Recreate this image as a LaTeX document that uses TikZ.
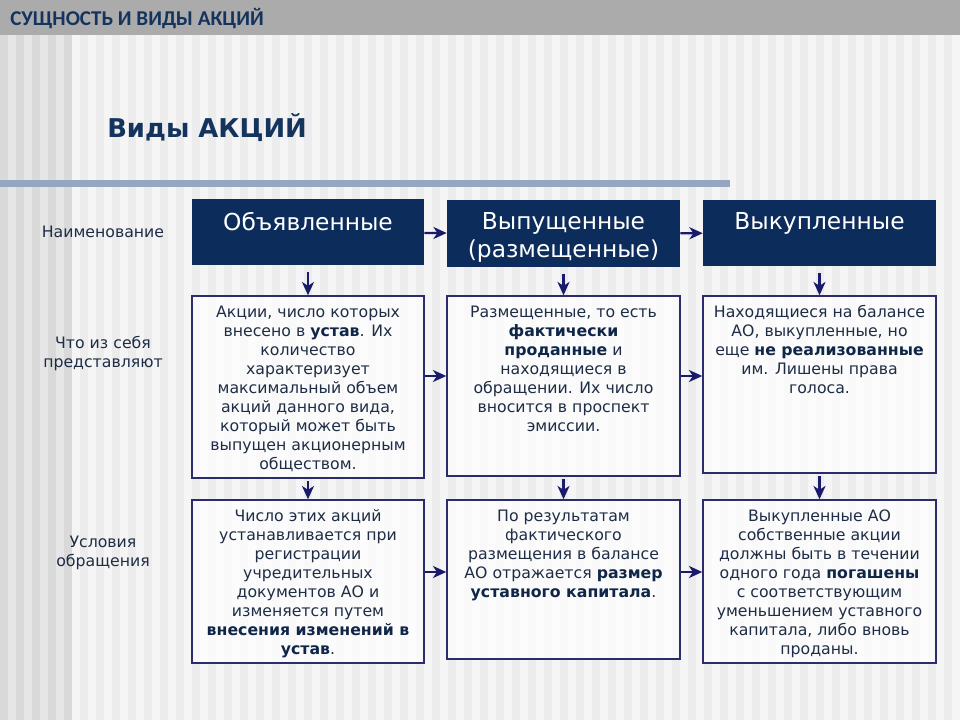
\documentclass[tikz,border=0pt]{standalone}
\usepackage{fontspec}
\setmainfont{DejaVu Sans}
\newfontfamily\barfont{Carlito}
\usetikzlibrary{arrows.meta,calc}
\definecolor{hdrblue}{HTML}{0C2D5C}
\definecolor{boxline}{HTML}{2B2C6B}
\definecolor{arrowc}{HTML}{1A1A6B}
\definecolor{txt}{HTML}{1E2D45}
\definecolor{boldtxt}{HTML}{0F2648}
\definecolor{titletxt}{HTML}{14345E}
\definecolor{barc}{HTML}{ABABAB}
\definecolor{rulec}{HTML}{94A7BF}
\definecolor{stripeA}{HTML}{D9D9D9}
\definecolor{stripeB}{HTML}{E6E6E6}
\definecolor{stripeC}{HTML}{F5F5F5}
\definecolor{stripeD}{HTML}{ECECEC}
\newdimen\pxu \pxu=0.75pt
\newcommand{\bt}[1]{\textbf{\color{boldtxt}#1}}
\tikzset{
  hdr/.style={fill=hdrblue, draw=none, inner sep=0pt},
  htext/.style={text=white, align=center, inner sep=0pt, font=\fontsize{17.5}{21}\selectfont},
  box/.style={draw=boxline, line width=1.1pt, fill=white, fill opacity=0.7, inner sep=0pt},
  btext/.style={text=txt, align=center, inner sep=0pt, font=\fontsize{11.8}{14.25}\selectfont},
  lbl/.style={text=txt, align=center, inner sep=0pt, font=\fontsize{11.8}{14.25}\selectfont},
  arr/.style={draw=arrowc, line width=1.7pt, -{Stealth[length=10pt,width=9pt,inset=3pt]}}
}
\begin{document}
\begin{tikzpicture}[x=0.75pt, y=-0.75pt]
\useasboundingbox (0,0) rectangle (960,720);
% background stripes
\fill[stripeB] (0,0) rectangle (72,720);
\foreach \i in {0,16,...,64} \fill[stripeA] (\i,0) rectangle ++(8,720);
\fill[stripeC] (72,0) rectangle (960,720);
\foreach \i in {80,96,...,944} \fill[stripeD] (\i,0) rectangle ++(8,720);
% top bar
\fill[barc] (0,0) rectangle (960,35);
\node[anchor=west, inner sep=0pt, text=titletxt, font=\barfont\bfseries\fontsize{15.8}{19}\selectfont] (bartitle) at (10,19) {СУЩНОСТЬ И ВИДЫ АКЦИЙ};
% title
\node[anchor=west, inner sep=0pt, text=titletxt, font=\bfseries\fontsize{19.4}{24}\selectfont] (title) at (107,128) {Виды АКЦИЙ};
\fill[rulec] (0,180.5) rectangle (730,187.5);
% headers
\node[hdr, minimum width=232\pxu, minimum height=66\pxu] (h1) at (308,232.5) {};
\node[hdr, minimum width=233\pxu, minimum height=67\pxu] (h2) at (563.5,233.5) {};
\node[hdr, minimum width=233\pxu, minimum height=66\pxu] (h3) at (819.5,233) {};
\node[htext, anchor=north] (h1t) at ([yshift=-13\pxu]h1.north) {Объявленные};
\node[htext, anchor=north] (h2t) at ([yshift=-12\pxu]h2.north) {Выпущенные\\(размещенные)};
\node[htext, anchor=north] (h3t) at ([yshift=-12\pxu]h3.north) {Выкупленные};
% middle boxes
\node[box, minimum width=232\pxu, minimum height=182\pxu] (m1) at (308,387) {};
\node[box, minimum width=233\pxu, minimum height=180\pxu] (m2) at (563.5,386) {};
\node[box, minimum width=233\pxu, minimum height=177\pxu] (m3) at (819.5,384.5) {};
% bottom boxes
\node[box, minimum width=232\pxu, minimum height=163\pxu] (b1) at (308,581.5) {};
\node[box, minimum width=233\pxu, minimum height=159\pxu] (b2) at (563.5,579.5) {};
\node[box, minimum width=233\pxu, minimum height=163\pxu] (b3) at (819.5,581.5) {};
% texts
\node[btext, anchor=north] (m1t) at ([yshift=-10\pxu]m1.north) {Акции, число которых\\внесено в \bt{устав}. Их\\количество\\характеризует\\максимальный объем\\акций данного вида,\\который может быть\\выпущен акционерным\\обществом.};
\node[btext, anchor=north] (m2t) at ([yshift=-10\pxu]m2.north) {Размещенные, то есть\\\bt{фактически}\\\bt{проданные} и\\находящиеся в\\обращении. Их число\\вносится в проспект\\эмиссии.};
\node[btext, anchor=north] (m3t) at ([yshift=-10\pxu]m3.north) {Находящиеся на балансе\\АО, выкупленные, но\\еще \bt{не реализованные}\\им. Лишены права\\голоса.};
\node[btext, anchor=north] (b1t) at ([yshift=-10\pxu]b1.north) {Число этих акций\\устанавливается при\\регистрации\\учредительных\\документов АО и\\изменяется путем\\\bt{внесения изменений в}\\\bt{устав}.};
\node[btext, anchor=north] (b2t) at ([yshift=-10\pxu]b2.north) {По результатам\\фактического\\размещения в балансе\\АО отражается \bt{размер}\\\bt{уставного капитала}.};
\node[btext, anchor=north] (b3t) at ([yshift=-10\pxu]b3.north) {Выкупленные АО\\собственные акции\\должны быть в течении\\одного года \bt{погашены}\\с соответствующим\\уменьшением уставного\\капитала, либо вновь\\проданы.};
% left labels
\node[lbl] (l1) at (103,232) {Наименование};
\node[lbl] (l2) at (103,353.5) {Что из себя\\представляют};
\node[lbl] (l3) at (103,552.5) {Условия\\обращения};
% arrows
\draw[arr] (h1) -- (h2);
\draw[arr] (h2) -- (h3);
\draw[arr] (m1.east |- 0,376) -- (m2.west |- 0,376);
\draw[arr] (m2.east |- 0,376) -- (m3.west |- 0,376);
\draw[arr] (b1.east |- 0,572) -- (b2.west |- 0,572);
\draw[arr] (b2.east |- 0,572) -- (b3.west |- 0,572);
\draw[arr, shorten <=5pt] (h1) -- (m1);
\draw[arr, shorten <=5pt] (h2) -- (m2);
\draw[arr, shorten <=5pt] (h3) -- (m3);
\draw[arr, shorten <=2pt] (m1) -- (b1);
\draw[arr, shorten <=2pt] (m2) -- (b2);
\draw[arr, shorten <=2pt] (m3) -- (b3);
\end{tikzpicture}
\end{document}
